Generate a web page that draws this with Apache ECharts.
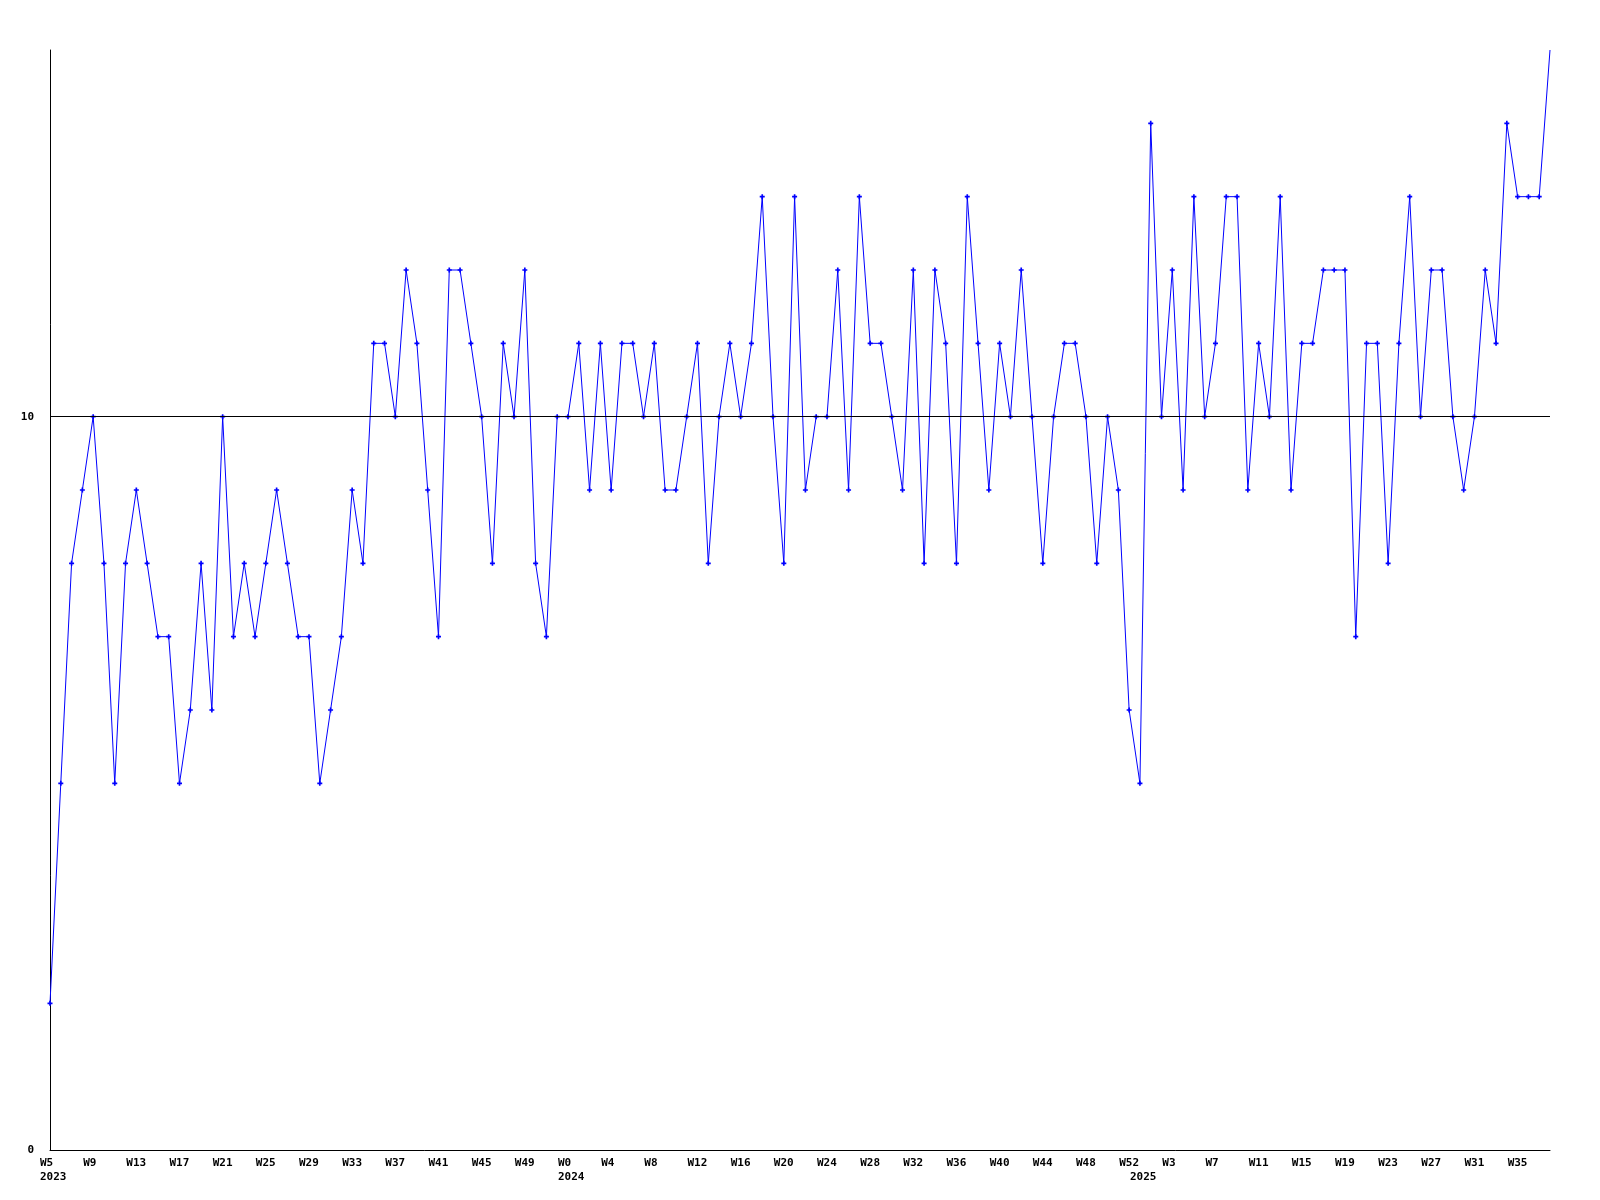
<!DOCTYPE html>
<html>
<head>
<meta charset="utf-8">
<script src="https://cdn.jsdelivr.net/npm/echarts@6/dist/echarts.min.js"></script>
<style>
html,body{margin:0;padding:0;background:#fff;}
#chart{width:1600px;height:1200px;}
</style>
</head>
<body>
<div id="chart"></div>
<script>
// Week categories (one per data point)
const weeks = [
 "W5","W6","W7","W8","W9","W10","W11","W12","W13","W14","W15","W16","W17","W18","W19","W20","W21","W22","W23","W24",
 "W25","W26","W27","W28","W29","W30","W31","W32","W33","W34","W35","W36","W37","W38","W39","W40","W41","W42","W43","W44",
 "W45","W46","W47","W48","W49","W50","W51","W52",
 "W0","W1","W2","W3","W4","W5","W6","W7","W8","W9","W10","W11","W12","W13","W14","W15","W16","W17","W18","W19",
 "W20","W21","W22","W23","W24","W25","W26","W27","W28","W29","W30","W31","W32","W33","W34","W35","W36","W37","W38","W39",
 "W40","W41","W42","W43","W44","W45","W46","W47","W48","W49","W50","W51","W52",
 "W0","W1","W2","W3","W4","W5","W6","W7","W8","W9","W10","W11","W12","W13","W14","W15","W16","W17","W18","W19",
 "W20","W21","W22","W23","W24","W25","W26","W27","W28","W29","W30","W31","W32","W33","W34","W35","W36","W37","W38"
];
// Year shown under the first week of each year
const yearStarts = [0, 48, 101];
const yearLabels = ["2023", "2024", "2025"];

const values = [
 2,5,8,9,10,8,5,8,9,8,7,7,5,6,8,6,10,7,8,7,8,9,8,
 7,7,5,6,7,9,8,11,11,10,12,11,9,7,12,12,11,10,8,11,10,12,8,
 7,10,10,11,9,11,9,11,11,10,11,9,9,10,11,8,10,11,10,11,13,10,8,
 13,9,10,10,12,9,13,11,11,10,9,12,8,12,11,8,13,11,9,11,10,12,
 10,8,10,11,11,10,8,10,9,6,5,14,10,12,9,13,10,11,13,13,9,11,10,
 13,9,11,11,12,12,12,7,11,11,8,11,13,10,12,12,10,9,10,12,11,14,13,13,13,15
];

const yTicks = [0, 10];
const yMax = 15;
const refLine = 10;

const FONT = 'DejaVu Sans Mono';
const chart = echarts.init(document.getElementById('chart'), null, {renderer:'canvas'});

const seriesData = values.map((v, i) => i === values.length - 1 ? {value: v, symbol: 'none'} : v);

chart.setOption({
  animation: false,
  backgroundColor: '#ffffff',
  grid: {left: 50, right: 50, top: 50, bottom: 50, containLabel: false},
  xAxis: [
    {
      type: 'category',
      data: weeks,
      boundaryGap: false,
      position: 'bottom',
      axisLine: {show: true, lineStyle: {color: '#000', width: 1}},
      axisTick: {show: false},
      splitLine: {show: false},
      axisLabel: {
        interval: (i) => i % 4 === 0,
        hideOverlap: false,
        margin: 8,
        formatter: (v) => '{a|' + v + '}',
        rich: {a: {width: 20, align: 'left', fontFamily: FONT, fontWeight: 'bold', fontSize: 11, color: '#000'}}
      }
    },
    {
      type: 'category',
      data: weeks,
      boundaryGap: false,
      position: 'bottom',
      offset: 14,
      axisLine: {show: false},
      axisTick: {show: false},
      splitLine: {show: false},
      axisLabel: {
        interval: (i) => yearStarts.indexOf(i) >= 0,
        hideOverlap: false,
        margin: 8,
        formatter: (v, i) => {
          const k = yearStarts.indexOf(i);
          return k >= 0 ? '{a|' + yearLabels[k] + '}' : '';
        },
        rich: {a: {width: 20, align: 'left', fontFamily: FONT, fontWeight: 'bold', fontSize: 11, color: '#000'}}
      }
    }
  ],
  yAxis: {
    type: 'value',
    min: 0,
    max: yMax,
    interval: 10,
    axisLine: {show: true, lineStyle: {color: '#000', width: 1}},
    axisTick: {show: false},
    splitLine: {show: false},
    axisLabel: {
      margin: 16,
      fontFamily: FONT, fontWeight: 'bold', fontSize: 11, color: '#000',
      formatter: (v) => yTicks.indexOf(v) >= 0 ? String(v) : ''
    }
  },
  series: [{
    type: 'line',
    xAxisIndex: 0,
    data: seriesData,
    lineStyle: {color: '#0000ff', width: 1},
    itemStyle: {color: '#0000ff'},
    symbol: 'path://M1,0H2V1H3V2H2V3H1V2H0V1H1Z',
    symbolSize: 5,
    showAllSymbol: true,
    clip: true,
    markLine: {
      silent: true,
      symbol: ['none', 'none'],
      label: {show: false},
      lineStyle: {color: '#000', width: 1, type: 'solid'},
      data: [{yAxis: refLine}]
    }
  }]
});
</script>
</body>
</html>
